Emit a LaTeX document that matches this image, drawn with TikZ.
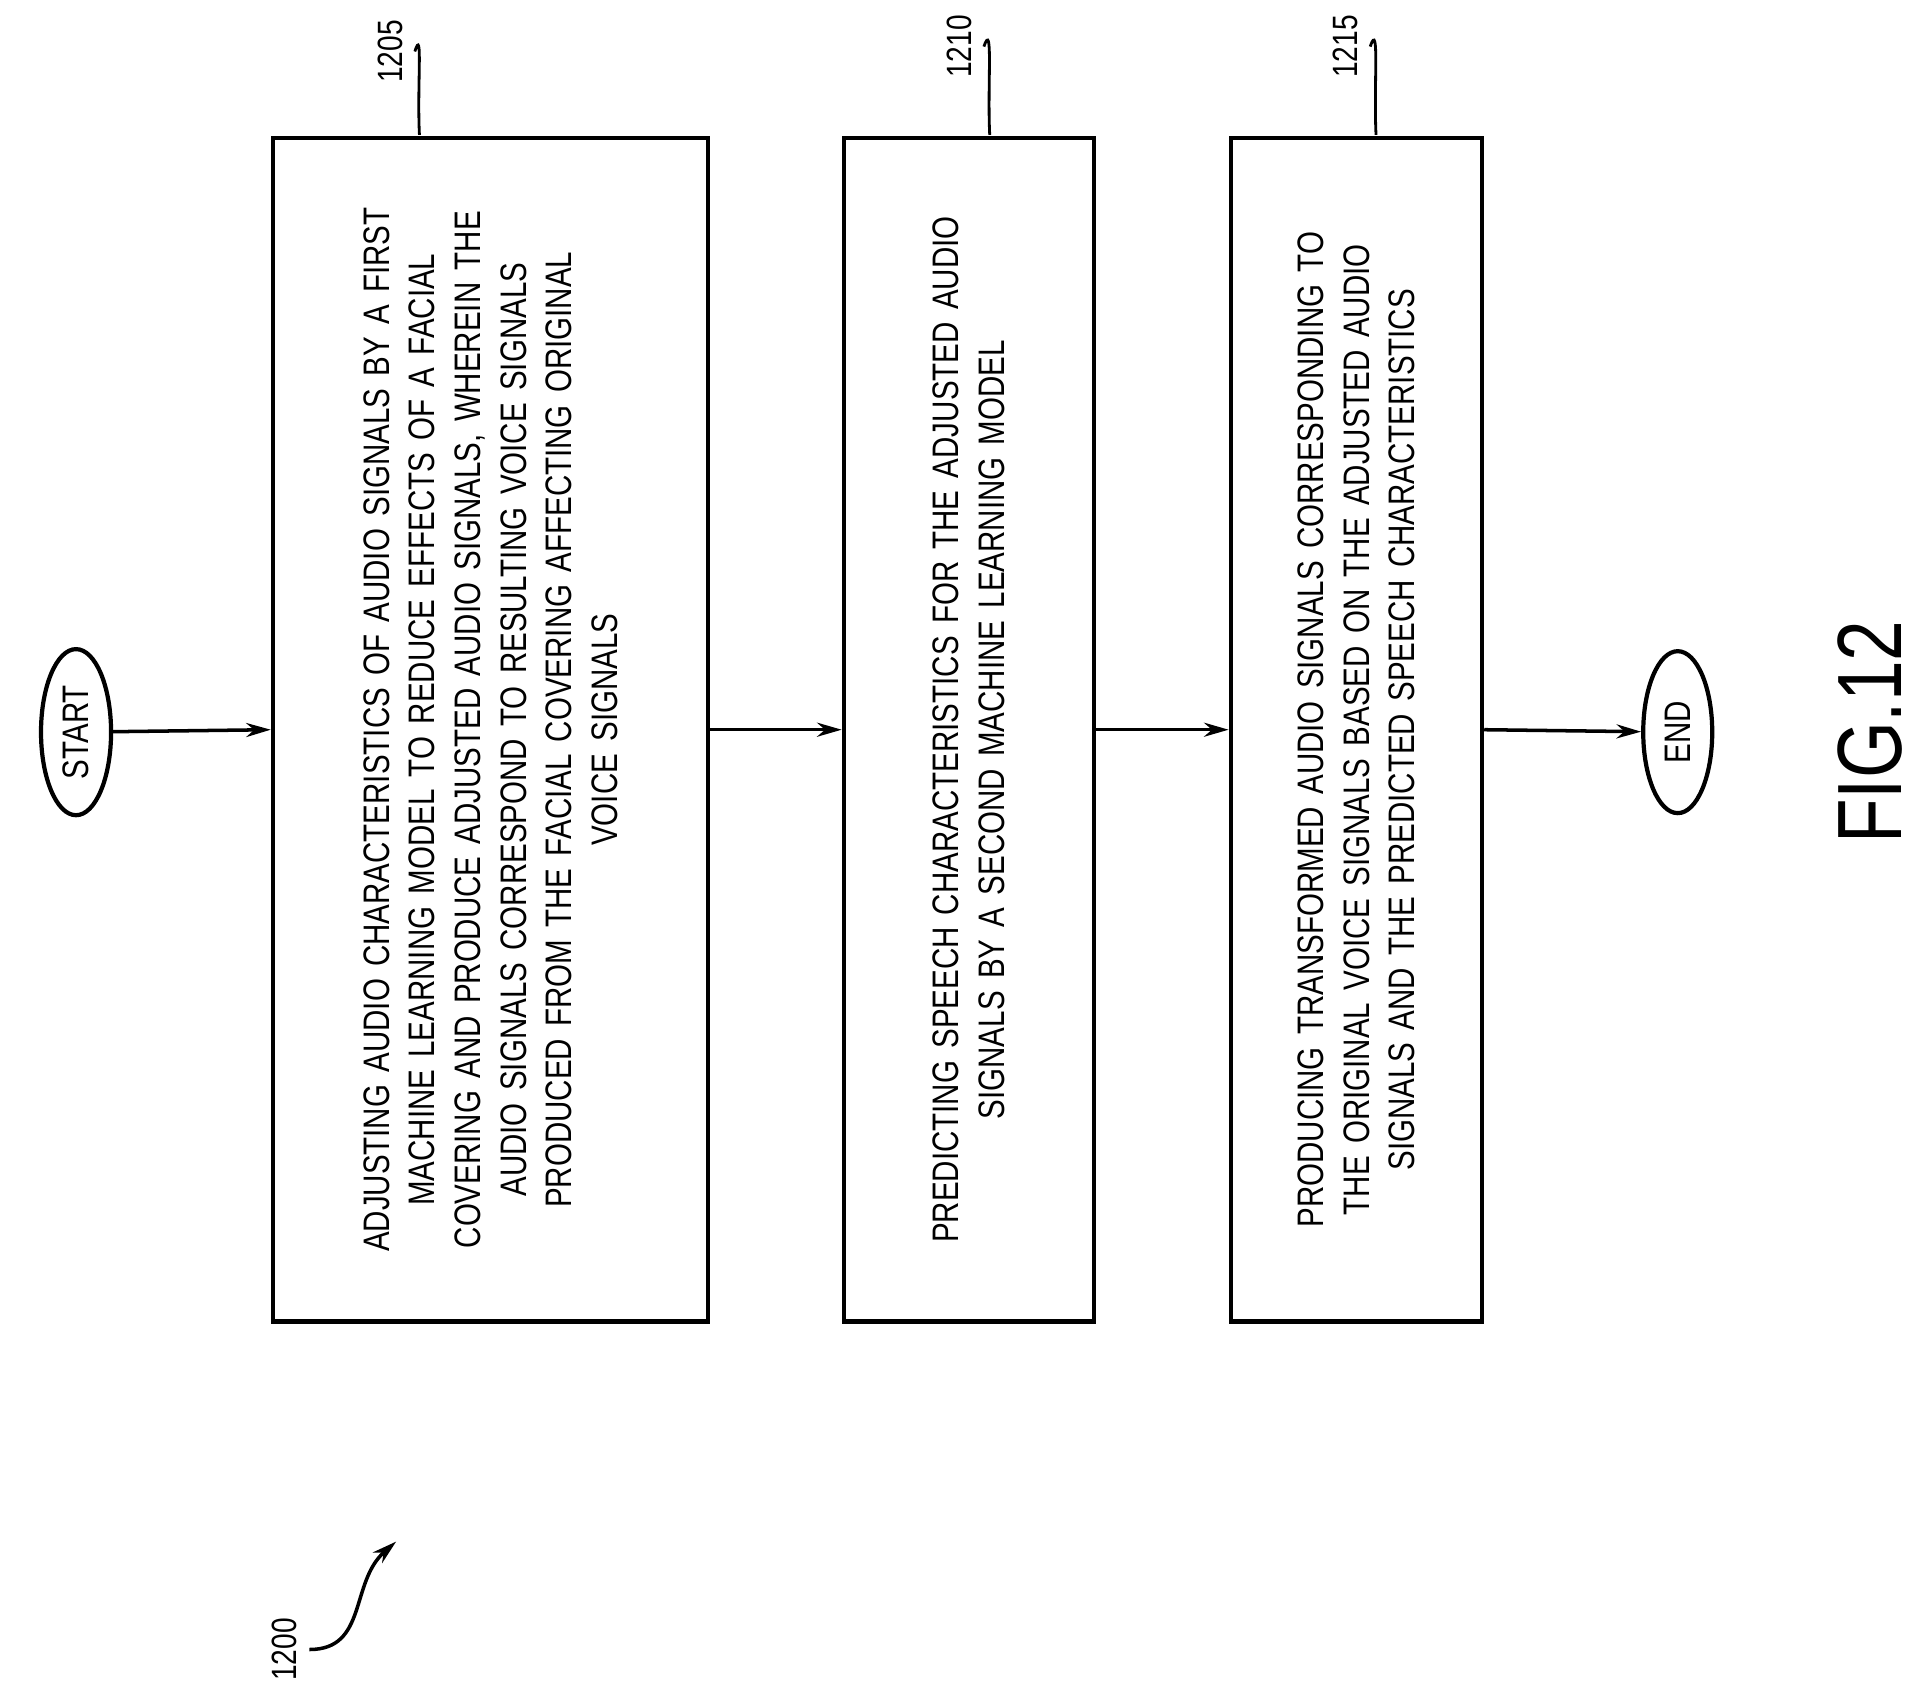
\documentclass[tikz,border=0pt]{standalone}
\usepackage{fontspec}
\newfontfamily\patfont[FakeStretch=0.8]{Liberation Sans}
\usetikzlibrary{positioning,shapes.geometric,arrows.meta}
\tikzset{
	stepbox/.style={draw, line width=1.2pt, inner sep=0pt, minimum width=965*0.012264cm},
	steptext/.style={align=center, text width=11.8cm, font=\patfont\fontsize{10.5}{13}\selectfont},
	term/.style={draw, ellipse, line width=1.2pt, minimum width=1.62cm, minimum height=0.6cm, font=\patfont\fontsize{10.5}{12}\selectfont},
	flow/.style={-{Stealth[length=7pt,width=4pt]}, line width=1pt},
	refnum/.style={font=\patfont\fontsize{10}{12}\selectfont, rotate=90},
}
\begin{document}
\begin{tikzpicture}[x=0.012264cm, y=-0.012264cm]
	\useasboundingbox (0,0) rectangle (1568,1389);
	
	\node[term, rotate=90] (Start) at (62,597) {START};
	\node[stepbox, rotate=90, minimum height=355*0.012264cm] (S1205) at (400,595) {};
	\node[steptext, rotate=90] at (S1205) {ADJUSTING AUDIO CHARACTERISTICS OF AUDIO SIGNALS BY A FIRST\\ MACHINE LEARNING MODEL TO REDUCE EFFECTS OF A FACIAL\\ COVERING AND PRODUCE ADJUSTED AUDIO SIGNALS, WHEREIN THE\\ AUDIO SIGNALS CORRESPOND TO RESULTING VOICE SIGNALS\\ PRODUCED FROM THE FACIAL COVERING AFFECTING ORIGINAL\\ VOICE SIGNALS};
	\node[stepbox, rotate=90, minimum height=204*0.012264cm] (S1210) at (790,595) {};
	\node[steptext, rotate=90] at (S1210) {PREDICTING SPEECH CHARACTERISTICS FOR THE ADJUSTED AUDIO\\ SIGNALS BY A SECOND MACHINE LEARNING MODEL};
	\node[stepbox, rotate=90, minimum height=205*0.012264cm] (S1215) at (1106,595) {};
	\node[steptext, rotate=90] at (S1215) {PRODUCING TRANSFORMED AUDIO SIGNALS CORRESPONDING TO\\ THE ORIGINAL VOICE SIGNALS BASED ON THE ADJUSTED AUDIO\\ SIGNALS AND THE PREDICTED SPEECH CHARACTERISTICS};
	\node[term, rotate=90] (End) at (1368,597) {END};
	
	\draw[flow] (Start) -- (S1205.north);
	\draw[flow] (S1205.south) -- (S1210.north);
	\draw[flow] (S1210.south) -- (S1215.north);
	\draw[flow] (S1215.south) -- (End);
	
	% reference numerals
	\node[refnum] (L1205) at (318,42) {1205};
	\node[refnum] (L1210) at (782,38) {1210};
	\node[refnum] (L1215) at (1097,38) {1215};
	\node[refnum] (L1200) at (232,1345) {1200};
	\coordinate (C1205) at (342,110);
	\coordinate (C1210) at (807,110);
	\coordinate (C1215) at (1122,110);
	\coordinate (C1200) at (323,1257);
	\draw[line width=0.8pt] (L1205.south) .. controls (345,20) and (340,70) .. (C1205);
	\draw[line width=0.8pt] (L1210.south) .. controls (810,15) and (805,70) .. (C1210);
	\draw[line width=0.8pt] (L1215.south) .. controls (1125,15) and (1120,70) .. (C1215);
	\draw[flow] (L1200.south) .. controls (300,1345) and (285,1290) .. (C1200);
	
	\node[font=\patfont\fontsize{26}{30}\selectfont, rotate=90] (Fig) at (1525,597) {FIG.12};
\end{tikzpicture}
\end{document}
